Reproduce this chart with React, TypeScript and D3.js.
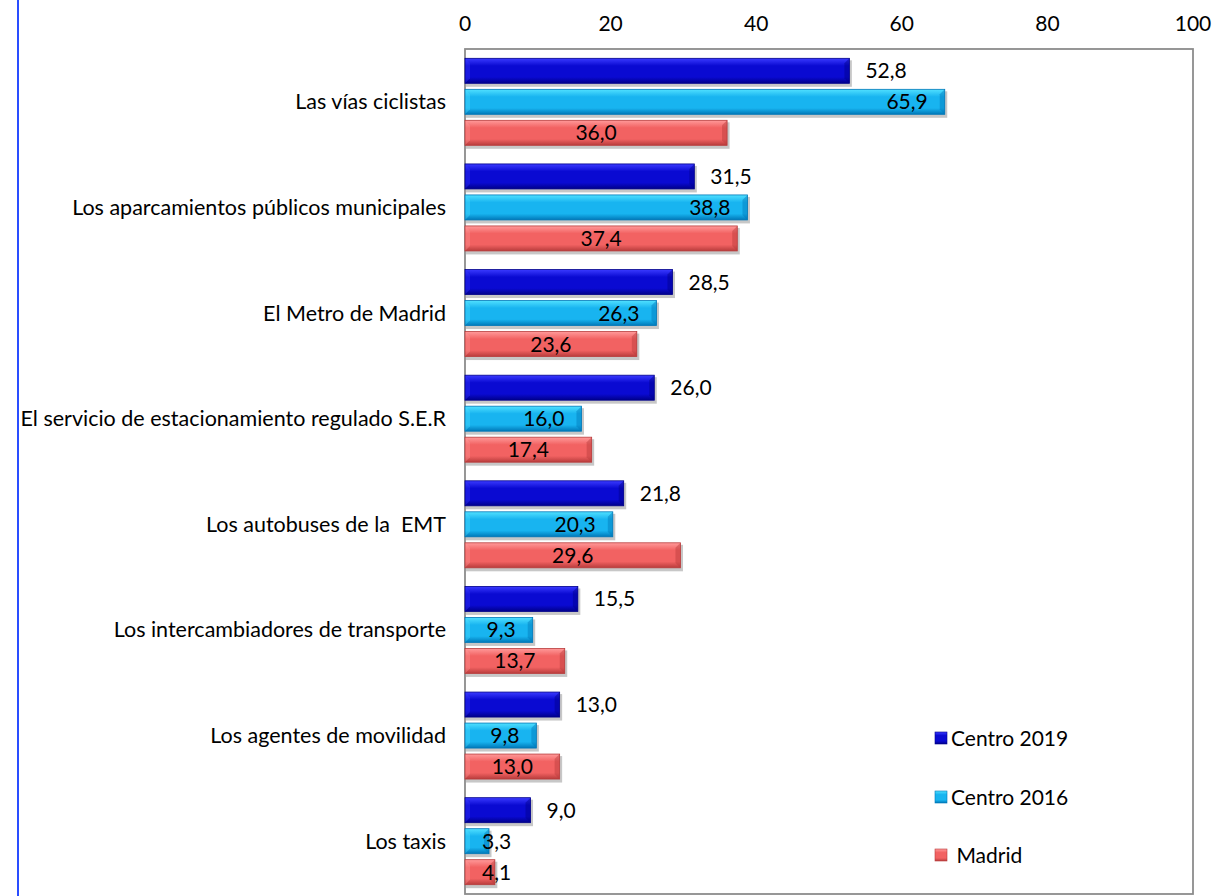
import React from "react";
import * as d3 from "d3";

const categories = [
  "Las vías ciclistas",
  "Los aparcamientos públicos municipales",
  "El Metro de Madrid",
  "El servicio de estacionamiento regulado S.E.R",
  "Los autobuses de la  EMT",
  "Los intercambiadores de transporte",
  "Los agentes de movilidad",
  "Los taxis",
];
const centro2019 = [52.8, 31.5, 28.5, 26.0, 21.8, 15.5, 13.0, 9.0];
const centro2016 = [65.9, 38.8, 26.3, 16.0, 20.3, 9.3, 9.8, 3.3];
const madrid = [36.0, 37.4, 23.6, 17.4, 29.6, 13.7, 13.0, 4.1];
const seriesNames = ["Centro 2019", "Centro 2016", " Madrid"];
const xTicks = [0, 20, 40, 60, 80, 100];

const W = 1226;
const H = 896;
const left = 465;
const right = 1193;
const top = 49;
const bottom = 894;

const palette = [
  { id: "g0", light: "#3a3aff", mid: "#0a0ad2", dark: "#00008a" },
  { id: "g1", light: "#50e0ff", mid: "#18b4f0", dark: "#0078b8" },
  { id: "g2", light: "#ff9a9a", mid: "#f26262", dark: "#b83c3c" },
];

const fmt = (v: number) => v.toFixed(1).replace(".", ",");
const FS = 21;

export default function App() {
  const x = d3.scaleLinear().domain([0, 100]).range([left, right]);
  const y = d3.scaleBand<string>().domain(categories).range([top, bottom]).paddingInner(0).paddingOuter(0);
  const bw = y.bandwidth();
  const barH = 25;
  const gap = 6;
  const groupH = barH * 3 + gap * 2;
  const off = (bw - groupH) / 2;
  const series = [centro2019, centro2016, madrid];
  const font = "Lato, 'Open Sans', sans-serif";

  const bar = (si: number, ci: number, v: number) => {
    const y0 = (y(categories[ci]) as number) + off + si * (barH + gap);
    const x0 = x(0);
    const x1 = x(v);
    const w = x1 - x0;
    const p = palette[si];
    const b = Math.min(5, w / 2);
    return (
      <g key={`b${si}-${ci}`}>
        <rect x={x0 + 1} y={y0 + 2} width={w + 1.5} height={barH + 1.5} fill="#000" opacity={0.22} />
        <rect x={x0} y={y0} width={w} height={barH} fill={`url(#${p.id})`} />
        <polygon points={`${x0},${y0} ${x0 + b},${y0 + b} ${x0 + b},${y0 + barH - b} ${x0},${y0 + barH}`} fill={p.light} opacity={0.35} />
        <polygon points={`${x1},${y0} ${x1 - b},${y0 + b} ${x1 - b},${y0 + barH - b} ${x1},${y0 + barH}`} fill={p.dark} opacity={0.45} />
        <rect x={x0} y={y0} width={w} height={barH} fill="none" stroke={p.dark} strokeWidth={0.8} />
      </g>
    );
  };

  const label = (si: number, ci: number, v: number) => {
    const y0 = (y(categories[ci]) as number) + off + si * (barH + gap);
    const cy = y0 + barH / 2 + 7.5;
    const x0 = x(0);
    const x1 = x(v);
    const tw = 34;
    let tx: number;
    let anchor: "start" | "middle" | "end";
    if (si === 0) {
      tx = x1 + 16;
      anchor = "start";
    } else if (si === 1) {
      if (x1 - x0 < tw + 20) {
        tx = x0 + 17;
        anchor = "start";
      } else {
        tx = x1 - 17;
        anchor = "end";
      }
    } else {
      if (x1 - x0 < tw + 10) {
        tx = x0 + 17;
        anchor = "start";
      } else {
        tx = (x0 + x1) / 2;
        anchor = "middle";
      }
    }
    return (
      <text key={`l${si}-${ci}`} x={tx} y={cy} textAnchor={anchor} fontSize={FS} fill="#000" fontFamily={font}>
        {fmt(v)}
      </text>
    );
  };

  const legendY = [738, 797, 855];

  return (
    <svg width={W} height={H} style={{ position: "absolute", left: 0, top: 0, background: "#fff" }}>
      <defs>
        {palette.map((p) => (
          <linearGradient key={p.id} id={p.id} x1="0" y1="0" x2="0" y2="1">
            <stop offset="0" stopColor={p.light} />
            <stop offset="0.3" stopColor={p.mid} />
            <stop offset="0.75" stopColor={p.mid} />
            <stop offset="1" stopColor={p.dark} />
          </linearGradient>
        ))}
      </defs>
      <line x1={18} x2={18} y1={0} y2={H} stroke="#2a4dff" strokeWidth={2} />
      {xTicks.map((t) => (
        <text key={t} x={x(t)} y={31} textAnchor="middle" fontSize={FS} fontFamily={font} fill="#000">
          {t}
        </text>
      ))}
      <rect x={left} y={top} width={right - left} height={bottom - top} fill="none" stroke="#8c8c8c" strokeWidth={1.8} />
      {categories.map((c) => (
        <text key={c} x={446} y={(y(c) as number) + bw / 2 + 7.5} textAnchor="end" fontSize={21.5} fontFamily={font} fill="#000" style={{ whiteSpace: "pre" }}>
          {c}
        </text>
      ))}
      {series.map((s, si) => s.map((v, ci) => bar(si, ci, v)))}
      {series.map((s, si) => s.map((v, ci) => label(si, ci, v)))}
      {seriesNames.map((n, i) => {
        const p = palette[i];
        return (
          <g key={n}>
            <rect x={935} y={legendY[i] - 6} width={12} height={12} fill={`url(#${p.id})`} stroke={p.dark} strokeWidth={0.6} />
            <text x={951} y={legendY[i] + 7.5} fontSize={FS} fontFamily={font} fill="#000" style={{ whiteSpace: "pre" }}>
              {n}
            </text>
          </g>
        );
      })}
    </svg>
  );
}
